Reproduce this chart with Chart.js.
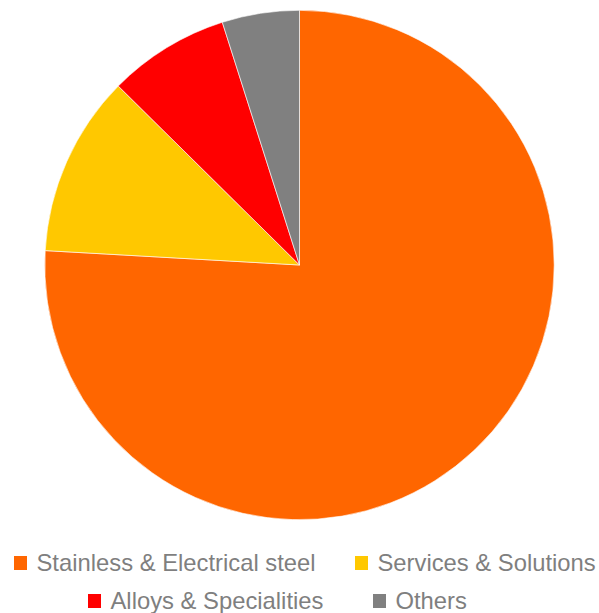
<!DOCTYPE html>
<html>
<head>
<meta charset="utf-8">
<script src="https://cdn.jsdelivr.net/npm/chart.js@4/dist/chart.umd.min.js"></script>
<style>
  html, body { margin: 0; padding: 0; background: #fff; }
  body { width: 599px; height: 613px; position: relative; overflow: hidden; }
  #wrap { position: absolute; left: 0; top: 10px; width: 599px; height: 510px; }
  .leg { position: absolute; display: flex; align-items: center; height: 28px;
         font-family: "Liberation Sans", Arial, sans-serif; font-size: 23.8px; color: #7f7f7f; white-space: nowrap; }
  .leg i { display: inline-block; width: 13.5px; height: 13.5px; margin-right: 9.5px; flex: none; }
</style>
</head>
<body>
<div id="wrap"><canvas id="pie"></canvas></div>
<div id="legend"></div>
<script>
const labels = ["Stainless & Electrical steel", "Services & Solutions", "Alloys & Specialities", "Others"];
const shares = [75.9, 11.5, 7.7, 4.9];
const colors = ["#FF6600", "#FFC800", "#FF0000", "#808080"];

// legend spots (Excel puts them in two rows, not centered like Chart.js)
const legendSpots = [[13.5, 563], [354.5, 563], [87.5, 601], [372.5, 601]];

function buildLegend() {
  const box = document.getElementById("legend");
  labels.forEach((name, i) => {
    const d = document.createElement("div");
    d.className = "leg";
    d.style.left = legendSpots[i][0] + "px";
    d.style.top = (legendSpots[i][1] - 14) + "px";
    const sw = document.createElement("i");
    sw.style.background = colors[i];
    d.appendChild(sw);
    d.appendChild(document.createTextNode(name));
    box.appendChild(d);
  });
}

new Chart(document.getElementById("pie"), {
  type: "pie",
  data: {
    labels,
    datasets: [{
      data: shares,
      backgroundColor: colors,
      borderColor: "#ffffff",
      borderWidth: 0.6
    }]
  },
  options: {
    responsive: true,
    maintainAspectRatio: false,
    animation: false,
    layout: { padding: 0 },
    plugins: {
      legend: { display: false },
      tooltip: { enabled: false }
    }
  }
});

buildLegend();
</script>
</body>
</html>
